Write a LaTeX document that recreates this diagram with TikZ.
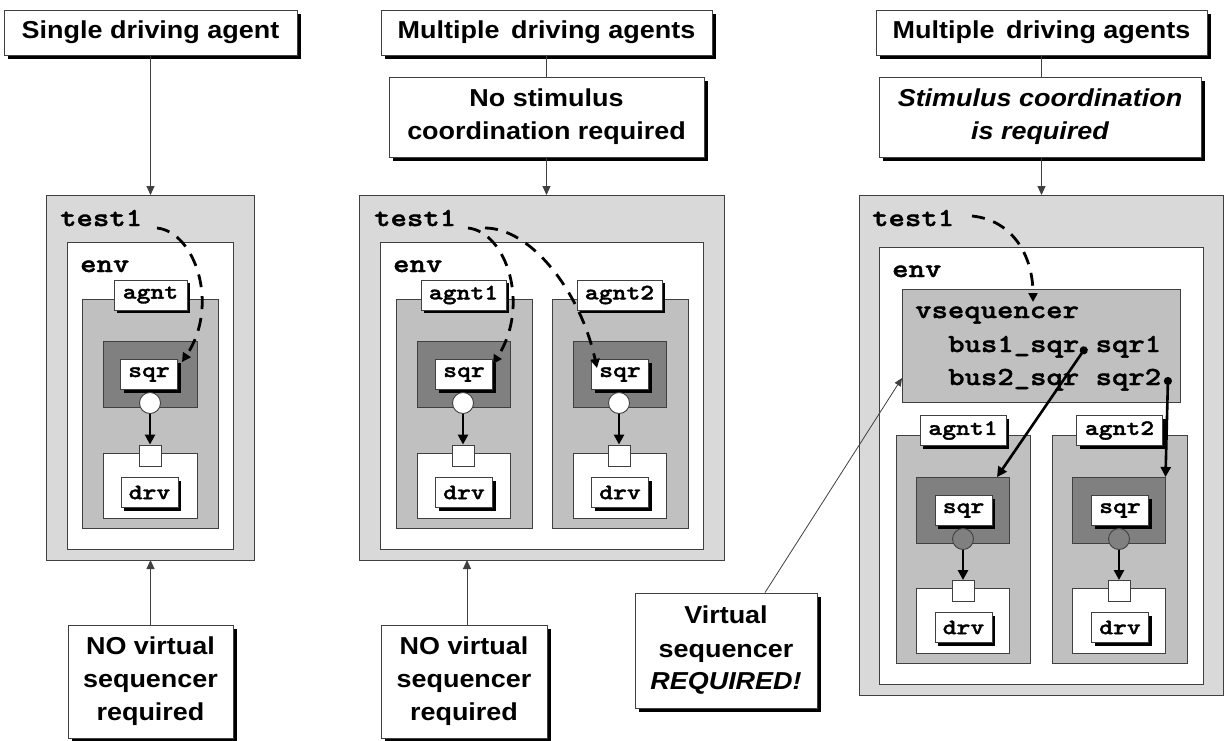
\documentclass[tikz,border=0pt]{standalone}
\usepackage{fontspec}
\setmainfont{Liberation Sans}[FakeStretch=1.1]
\newfontfamily\monof{lmmonolt10-bold}[Extension=.otf, FakeStretch=1.2, FakeBold=1.5]
\usetikzlibrary{shadows,arrows.meta}
\definecolor{lg}{HTML}{D9D9D9}
\definecolor{mg}{HTML}{C0C0C0}
\definecolor{dg}{HTML}{808080}
\definecolor{bd}{HTML}{404040}
\newcommand\notefont{\fontsize{24.5}{33}\selectfont\bfseries}
\newcommand\tagfont{\monof\fontsize{22}{26}\selectfont}
\newcommand\lblfont{\monof\fontsize{26}{30}\selectfont}
\tikzset{
  box/.style={draw=bd, line width=0.9pt, inner sep=0pt, outer sep=0pt},
  note/.style={draw=bd, line width=0.9pt, fill=white, align=center, inner sep=0pt, font=\notefont,
    drop shadow={shadow xshift=4pt, shadow yshift=-4pt, fill=black, opacity=1}},
  tag/.style={draw=bd, line width=0.9pt, fill=white, inner sep=0pt, minimum height=30pt, font=\tagfont,
    drop shadow={shadow xshift=3pt, shadow yshift=-3pt, fill=black, opacity=1}},
  lbl/.style={anchor=base west, inner sep=0pt, font=\lblfont},
  port/.style={circle, draw=bd, line width=0.9pt, fill=white, minimum size=21pt, inner sep=0pt},
  gport/.style={port, fill=dg},
  sq/.style={draw=bd, line width=0.9pt, fill=white, minimum width=22pt, minimum height=21pt, inner sep=0pt},
  thinarrow/.style={draw=bd, line width=1pt, -{Triangle[length=9pt,width=8pt]}},
  plainline/.style={draw=bd, line width=1pt},
  thickarrow/.style={line width=2.6pt, -{Triangle[length=10pt,width=10pt]}},
  dasharrow/.style={line width=2.8pt, dash pattern=on 13pt off 9pt, -{Triangle[length=9pt,width=9pt]}}
}
\begin{document}
\begin{tikzpicture}[x=1pt,y=-1pt]
\useasboundingbox (0,0) rectangle (1225,740);
% ---------------- Panel 1 ----------------
\node[box, fill=lg, minimum width=208pt, minimum height=365pt] (p1test) at (150,377.5) {};
\node[box, fill=white, minimum width=166pt, minimum height=307pt] (p1env) at (150,395.5) {};
\node[box, fill=mg, minimum width=136pt, minimum height=229pt] (p1ag) at (150,413.5) {};
\node[box, fill=dg, minimum width=94pt, minimum height=66pt] (p1sq) at (150,374) {};
\node[box, fill=white, minimum width=94pt, minimum height=65pt] (p1dv) at (150,485.5) {};
\node[lbl] (p1tl) at (60,226) {test1};
\node[lbl] (p1el) at (80,272) {env};
\node[tag, minimum width=73pt] (p1agl) at (150.5,295) {agnt};
\node[tag, minimum width=57pt] (p1sql) at (149,374.5) {sqr};
\node[tag, minimum width=57pt] (p1dvl) at (149.5,492.5) {drv};
\node[port] (p1po) at (150,403) {};
\node[sq] (p1ex) at (150,455.5) {};
\draw[thickarrow] (p1po) -- (p1ex);
\node[note, minimum width=293pt, minimum height=45pt] (p1t) at (150.5,32.5) {Single driving agent};
\node[note, minimum width=165pt, minimum height=113pt] (p1b) at (150.5,681.5) {NO virtual\\sequencer\\required};
\draw[thinarrow] (p1t.south) -- (p1t.south |- p1test.north);
\draw[thinarrow] (p1b.north) -- (p1b.north |- p1test.south);
\coordinate (p1d) at (157,228);
\coordinate (p1e) at (182,362);
\draw[dasharrow] (p1d) .. controls (195,232) and (220,305) .. (p1e);
% ---------------- Panel 2 ----------------
\node[box, fill=lg, minimum width=365pt, minimum height=365pt] (p2test) at (541.5,377.5) {};
\node[box, fill=white, minimum width=323pt, minimum height=307pt] (p2env) at (541.5,395.5) {};
\node[box, fill=mg, minimum width=136pt, minimum height=229pt] (p2ag1) at (464,413.5) {};
\node[box, fill=mg, minimum width=136pt, minimum height=229pt] (p2ag2) at (620,413.5) {};
\node[box, fill=dg, minimum width=93pt, minimum height=66pt] (p2sq1) at (463.5,374) {};
\node[box, fill=dg, minimum width=93pt, minimum height=66pt] (p2sq2) at (619.5,374) {};
\node[box, fill=white, minimum width=93pt, minimum height=65pt] (p2dv1) at (463.5,485.5) {};
\node[box, fill=white, minimum width=93pt, minimum height=65pt] (p2dv2) at (619.5,485.5) {};
\node[lbl] (p2tl) at (374,226) {test1};
\node[lbl] (p2el) at (393,272) {env};
\node[tag, minimum width=85pt] (p2agl1) at (463.5,295) {agnt1};
\node[tag, minimum width=85pt] (p2agl2) at (619.5,295) {agnt2};
\node[tag, minimum width=57pt] (p2sql1) at (464,374.5) {sqr};
\node[tag, minimum width=57pt] (p2sql2) at (620,374.5) {sqr};
\node[tag, minimum width=57pt] (p2dvl1) at (464,492.5) {drv};
\node[tag, minimum width=57pt] (p2dvl2) at (620,492.5) {drv};
\node[port] (p2po1) at (463,403) {};
\node[port] (p2po2) at (619,403) {};
\node[sq] (p2ex1) at (463,455.5) {};
\node[sq] (p2ex2) at (619,455.5) {};
\draw[thickarrow] (p2po1) -- (p2ex1);
\draw[thickarrow] (p2po2) -- (p2ex2);
\node[note, minimum width=331pt, minimum height=45pt] (p2t) at (546.5,32.5) {Multiple\, driving agents};
\node[note, minimum width=315pt, minimum height=80pt] (p2n) at (546.5,117) {No stimulus\\coordination required};
\node[note, minimum width=166pt, minimum height=113pt] (p2b) at (464,681.5) {NO virtual\\sequencer\\required};
\draw[plainline] (p2t.south) -- (p2n.north);
\draw[thinarrow] (p2n.south) -- (p2n.south |- p2test.north);
\draw[thinarrow] ([xshift=3pt]p2b.north) -- ([xshift=3pt]p2b.north |- p2test.south);
\coordinate (p2d1) at (468,228);
\coordinate (p2e1) at (493,364);
\coordinate (p2d2) at (485,228);
\coordinate (p2e2) at (597,368);
\draw[dasharrow] (p2d1) .. controls (506,232) and (531,305) .. (p2e1);
\draw[dasharrow] (p2d2) .. controls (530,228) and (580,290) .. (p2e2);
% ---------------- Panel 3 ----------------
\node[box, fill=lg, minimum width=364pt, minimum height=500pt] (p3test) at (1041,445) {};
\node[box, fill=white, minimum width=324pt, minimum height=437pt] (p3env) at (1041,465.5) {};
\node[box, fill=mg, minimum width=278pt, minimum height=113pt] (vseq) at (1041,345.5) {};
\node[box, fill=mg, minimum width=134pt, minimum height=228pt] (p3ag1) at (963,549) {};
\node[box, fill=mg, minimum width=135pt, minimum height=228pt] (p3ag2) at (1119.5,549) {};
\node[box, fill=dg, minimum width=93pt, minimum height=66pt] (p3sq1) at (962.5,510) {};
\node[box, fill=dg, minimum width=93pt, minimum height=66pt] (p3sq2) at (1119,510) {};
\node[box, fill=white, minimum width=93pt, minimum height=65pt] (p3dv1) at (962.5,620.5) {};
\node[box, fill=white, minimum width=93pt, minimum height=65pt] (p3dv2) at (1119,620.5) {};
\node[lbl] (p3tl) at (872,226) {test1};
\node[lbl] (p3el) at (892,277) {env};
\node[lbl] (vsl) at (915,318) {vsequencer};
\node[lbl] (vb1) at (948,352) {bus1\_sqr sqr1};
\node[lbl] (vb2) at (948,385) {bus2\_sqr sqr2};
\node[tag, minimum width=86pt] (p3agl1) at (963,430.5) {agnt1};
\node[tag, minimum width=86pt] (p3agl2) at (1119.5,430.5) {agnt2};
\node[tag, minimum width=57pt] (p3sql1) at (963.5,510.5) {sqr};
\node[tag, minimum width=57pt] (p3sql2) at (1120,510.5) {sqr};
\node[tag, minimum width=57pt] (p3dvl1) at (963.5,627.5) {drv};
\node[tag, minimum width=57pt] (p3dvl2) at (1120,627.5) {drv};
\node[gport] (p3po1) at (963,539) {};
\node[gport] (p3po2) at (1119,539) {};
\node[sq] (p3ex1) at (963,591) {};
\node[sq] (p3ex2) at (1119,591) {};
\draw[thickarrow] (p3po1) -- (p3ex1);
\draw[thickarrow] (p3po2) -- (p3ex2);
\node[note, minimum width=331pt, minimum height=45pt] (p3t) at (1041.5,32.5) {Multiple\, driving agents};
\node[note, minimum width=322pt, minimum height=80pt] (p3n) at (1040,117) {\itshape Stimulus coordination\\\itshape is required};
\node[note, minimum width=182pt, minimum height=115pt] (vbox) at (726,650.5) {Virtual\\sequencer\\\itshape REQUIRED!};
\draw[plainline] (p3t.south) -- (p3t.south |- p3n.north);
\draw[thinarrow] (p3t.south |- p3n.south) -- (p3t.south |- p3test.north);
\coordinate (b1) at (1086,347);
\coordinate (b2) at (1168,377);
\draw[line width=2.6pt, {Circle[length=8pt]}-{Triangle[length=10pt,width=10pt]}] (b1) -- ([xshift=-12pt]p3sq1.north east);
\draw[line width=2.6pt, {Circle[length=8pt]}-{Triangle[length=10pt,width=10pt]}] (b2) -- (p3sq2.north east);
\draw[draw=bd, line width=0.8pt, -{Triangle[length=8pt,width=7pt]}] ([xshift=39pt]vbox.north) -- ([yshift=-32.5pt]vseq.west);
\coordinate (p3d) at (972,216);
\draw[dasharrow] (p3d) .. controls (1012,220) and (1033,255) .. (1033,302);
\end{tikzpicture}
\end{document}
